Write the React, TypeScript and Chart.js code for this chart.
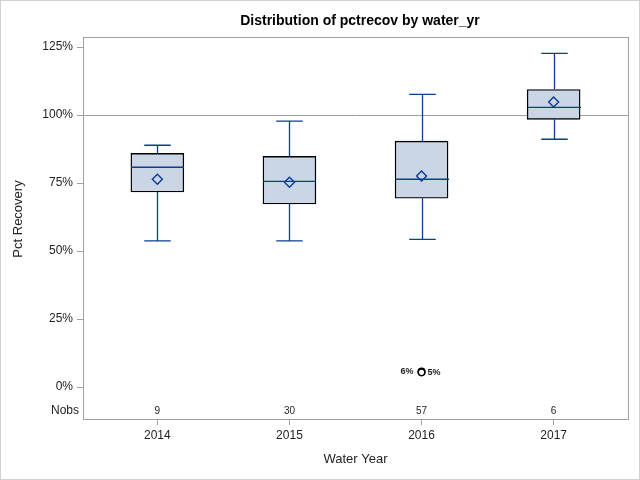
import React, { useEffect, useRef } from "react";
import { Chart, registerables } from "chart.js";

Chart.register(...registerables);

const YEARS = ["2014", "2015", "2016", "2017"];
const WHISKER_LOW = [53.7, 53.7, 54.3, 91.1];
const Q1 = [71.7, 67.3, 69.4, 98.4];
const MEDIAN = [80.8, 75.6, 76.4, 102.8];
const Q3 = [85.9, 84.8, 90.4, 109.4];
const WHISKER_HIGH = [88.9, 97.8, 107.6, 122.7];
const MEAN = [76.4, 75.3, 77.6, 104.8];
const NOBS = [9, 30, 57, 6];
const OUTLIER_YEAR_INDEX = [2, 2];
const OUTLIER_VALUE = [5.7, 5.4];
const OUTLIER_LABEL = ["6%", "5%"];
const Y_TICKS = [0, 25, 50, 75, 100, 125];
const REF_LINE = 100;

const BLUE = "#0d3c94";
const FILL = "#cad5e5";
const FRAME = "#a0a0a0";
const TEXT = "#222";
const FONT = "'Liberation Sans', Arial, sans-serif";

export default function App() {
  const ref = useRef<HTMLCanvasElement | null>(null);

  useEffect(() => {
    document.body.style.margin = "0";
    const canvas = ref.current;
    if (!canvas) return;

    const boxPlugin = {
      id: "boxExtras",
      beforeDraw(chart: any) {
        const { ctx, width, height } = chart;
        ctx.save();
        ctx.fillStyle = "#fff";
        ctx.fillRect(0, 0, width, height);
        ctx.strokeStyle = "#d0d0d0";
        ctx.lineWidth = 1;
        ctx.strokeRect(0.5, 0.5, width - 1, height - 1);
        ctx.restore();
      },
      beforeDatasetsDraw(chart: any) {
        const { ctx, chartArea } = chart;
        const y = chart.scales.y;
        ctx.save();
        ctx.strokeStyle = FRAME;
        ctx.lineWidth = 1;
        const yr = Math.round(y.getPixelForValue(REF_LINE)) + 0.5;
        ctx.beginPath();
        ctx.moveTo(chartArea.left, yr);
        ctx.lineTo(chartArea.right, yr);
        ctx.stroke();
        ctx.restore();
      },
      afterDatasetDraw(chart: any, args: any) {
        if (args.index !== 0) return;
        const { ctx } = chart;
        const x = chart.scales.x;
        const y = chart.scales.y;
        const meta = chart.getDatasetMeta(0);
        ctx.save();
        ctx.strokeStyle = BLUE;
        ctx.lineWidth = 1.3;
        YEARS.forEach((_, i) => {
          const px = Math.round(x.getPixelForValue(i)) + 0.5;
          const bw = meta.data[i] ? meta.data[i].width : 53;
          const cap = bw / 2;
          const yLow = y.getPixelForValue(WHISKER_LOW[i]);
          const yQ1 = y.getPixelForValue(Q1[i]);
          const yQ3 = y.getPixelForValue(Q3[i]);
          const yHigh = y.getPixelForValue(WHISKER_HIGH[i]);
          const yMed = y.getPixelForValue(MEDIAN[i]);
          ctx.beginPath();
          ctx.moveTo(px, yQ3);
          ctx.lineTo(px, yHigh);
          ctx.moveTo(px - cap / 2, yHigh);
          ctx.lineTo(px + cap / 2, yHigh);
          ctx.moveTo(px, yQ1);
          ctx.lineTo(px, yLow);
          ctx.moveTo(px - cap / 2, yLow);
          ctx.lineTo(px + cap / 2, yLow);
          ctx.moveTo(px - bw / 2, yMed);
          ctx.lineTo(px + bw / 2, yMed);
          ctx.stroke();
        });
        ctx.restore();
      },
      afterDraw(chart: any) {
        const { ctx, chartArea } = chart;
        const x = chart.scales.x;
        const y = chart.scales.y;
        ctx.save();
        // frame
        ctx.strokeStyle = FRAME;
        ctx.lineWidth = 1;
        ctx.strokeRect(
          Math.round(chartArea.left) + 0.5,
          Math.round(chartArea.top) + 0.5,
          Math.round(chartArea.right - chartArea.left),
          Math.round(chartArea.bottom - chartArea.top)
        );
        // title
        ctx.fillStyle = "#000";
        ctx.font = `bold 14px ${FONT}`;
        ctx.textAlign = "center";
        ctx.textBaseline = "middle";
        ctx.fillText("Distribution of pctrecov by water_yr", 360, 21);
        // y title
        ctx.fillStyle = TEXT;
        ctx.font = `13px ${FONT}`;
        ctx.save();
        ctx.translate(18, 219);
        ctx.rotate(-Math.PI / 2);
        ctx.fillText("Pct Recovery", 0, 0);
        ctx.restore();
        // Nobs row
        const ny = chartArea.bottom - 8;
        ctx.font = `12px ${FONT}`;
        ctx.textAlign = "right";
        ctx.fillText("Nobs", 79, ny);
        ctx.font = `10px ${FONT}`;
        ctx.textAlign = "center";
        NOBS.forEach((n, i) => {
          ctx.fillText(String(n), x.getPixelForValue(i), ny);
        });
        // outlier labels
        ctx.font = `bold 9px ${FONT}`;
        OUTLIER_VALUE.forEach((v, k) => {
          const px = x.getPixelForValue(OUTLIER_YEAR_INDEX[k]);
          const py = y.getPixelForValue(v);
          if (k % 2 === 0) {
            ctx.textAlign = "right";
            ctx.fillText(OUTLIER_LABEL[k], px - 8, py);
          } else {
            ctx.textAlign = "left";
            ctx.fillText(OUTLIER_LABEL[k], px + 6, py);
          }
        });
        ctx.restore();
      },
    };

    const chart = new Chart(canvas, {
      type: "bar",
      data: {
        datasets: [
          {
            type: "bar",
            data: YEARS.map((_, i) => ({ x: i, y: [Q1[i], Q3[i]] })) as any,
            backgroundColor: FILL,
            borderColor: "#000",
            borderWidth: 1.4,
            borderSkipped: false,
            barThickness: 53,
            order: 2,
          } as any,
          {
            type: "scatter",
            data: YEARS.map((_, i) => ({ x: i, y: MEAN[i] })),
            pointStyle: "rectRot",
            pointRadius: 5,
            pointBackgroundColor: "rgba(0,0,0,0)",
            pointBorderColor: BLUE,
            pointBorderWidth: 1.4,
            order: 1,
          } as any,
          {
            type: "scatter",
            data: OUTLIER_VALUE.map((v, k) => ({ x: OUTLIER_YEAR_INDEX[k], y: v })),
            pointStyle: "circle",
            pointRadius: 3.3,
            pointBackgroundColor: "#fff",
            pointBorderColor: "#000",
            pointBorderWidth: 1.5,
            order: 0,
          } as any,
        ],
      },
      options: {
        responsive: false,
        animation: false,
        layout: { padding: { top: 37, right: 12, left: 0, bottom: 0 } },
        plugins: {
          legend: { display: false },
          title: { display: false },
          tooltip: { enabled: false },
        },
        scales: {
          x: {
            type: "linear",
            offset: false,
            min: -0.563,
            max: 3.563,
            afterBuildTicks: (s: any) => {
              s.ticks = YEARS.map((_, i) => ({ value: i }));
            },
            afterFit: (s: any) => {
              s.height = 61;
            },
            ticks: {
              callback: (v: any) => YEARS[v as number] ?? "",
              font: { family: FONT, size: 12 },
              color: TEXT,
              padding: 3,
              maxRotation: 0,
            },
            grid: {
              display: true,
              offset: false,
              drawOnChartArea: false,
              drawTicks: true,
              tickLength: 6,
              color: FRAME,
            },
            border: { display: false },
            title: {
              display: true,
              text: "Water Year",
              font: { family: FONT, size: 13 },
              color: TEXT,
              padding: { top: 0, bottom: 13 },
            },
          },
          y: {
            type: "linear",
            min: -11.76,
            max: 128.7,
            afterBuildTicks: (s: any) => {
              s.ticks = Y_TICKS.map((v) => ({ value: v }));
            },
            afterFit: (s: any) => {
              s.width = 83;
            },
            ticks: {
              callback: (v: any) => `${v}%`,
              font: { family: FONT, size: 12 },
              color: TEXT,
              padding: 4,
            },
            grid: {
              display: true,
              drawOnChartArea: false,
              drawTicks: true,
              tickLength: 6,
              color: FRAME,
            },
            border: { display: false },
          },
        },
      } as any,
      plugins: [boxPlugin],
    });

    return () => chart.destroy();
  }, []);

  return (
    <div style={{ width: 640, height: 480 }}>
      <canvas ref={ref} width={640} height={480} />
    </div>
  );
}
